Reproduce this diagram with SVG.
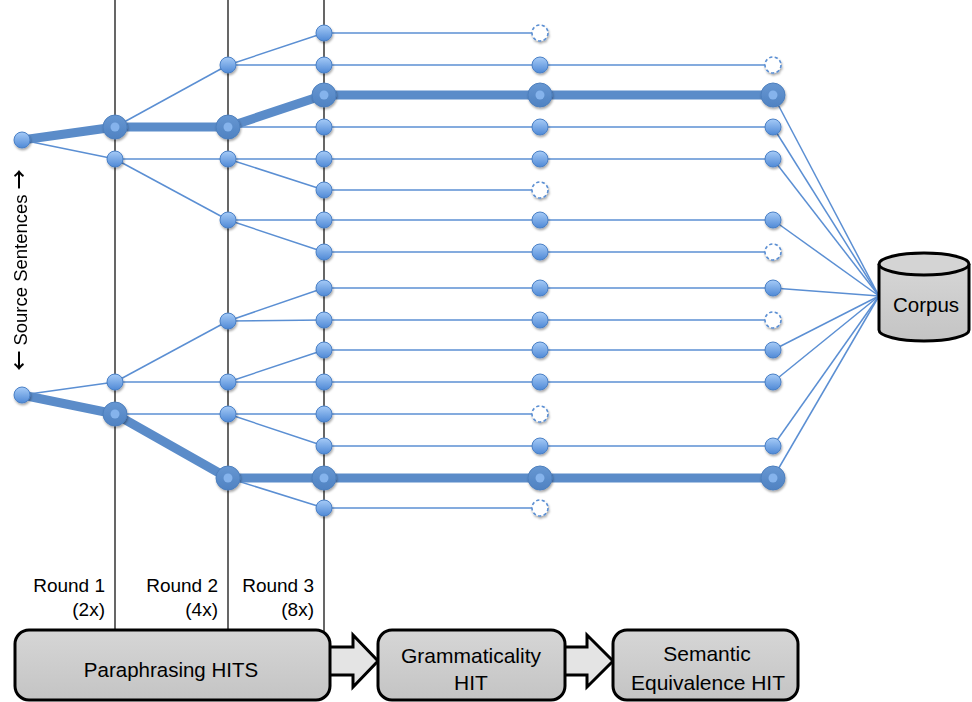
<svg xmlns="http://www.w3.org/2000/svg" xmlns:xlink="http://www.w3.org/1999/xlink" width="972" height="702" viewBox="0 0 972 702">
<style>
.e{stroke:#5b8fd3;stroke-width:1.5;fill:none}
.k{stroke:#5b8cc9;stroke-width:9;fill:none;stroke-linecap:round;stroke-linejoin:round}
.v{stroke:#000;stroke-width:1.2}
.box{fill:url(#gbox);stroke:#000;stroke-width:3}
.arr{fill:#e4e4e4;stroke:#000;stroke-width:3;stroke-linejoin:miter}
.t{font-family:"Liberation Sans",Arial,sans-serif;fill:#000}
.ar{font-family:"Noto Sans CJK SC","DejaVu Sans",sans-serif;font-size:20px;font-weight:bold}
</style>
<defs>
<linearGradient id="gn" x1="0" y1="0" x2="0" y2="1">
<stop offset="0" stop-color="#a6cbf7"/>
<stop offset="1" stop-color="#4f89d6"/>
</linearGradient>
<linearGradient id="gt" x1="0" y1="0" x2="0" y2="1">
<stop offset="0" stop-color="#6797d2"/>
<stop offset="1" stop-color="#4f82c2"/>
</linearGradient>
<linearGradient id="gbox" x1="0" y1="0" x2="0" y2="1">
<stop offset="0" stop-color="#d6d6d6"/>
<stop offset="1" stop-color="#c4c4c4"/>
</linearGradient>
<filter id="sh" x="-50%" y="-50%" width="200%" height="200%">
<feDropShadow dx="0.8" dy="1.8" stdDeviation="1.3" flood-color="#000" flood-opacity="0.35"/>
</filter>
<g id="nd"><circle r="8" fill="url(#gn)" stroke="#4a80c6" stroke-width="1"/></g>
<g id="nt"><circle r="12" fill="url(#gt)" stroke="#4d7fbd" stroke-width="1"/><circle r="4.5" fill="#85b3ec"/></g>
<g id="nx"><circle r="8" fill="#fff" stroke="#5b8fd3" stroke-width="1.6" stroke-dasharray="3.2 2.4"/></g>
</defs>
<rect width="972" height="702" fill="#fff"/>

<!-- round dividers -->
<g id="dividers">
<line class="v" x1="115" y1="0" x2="115" y2="631"/>
<line class="v" x1="228" y1="0" x2="228" y2="631"/>
<line class="v" x1="324" y1="0" x2="324" y2="631"/>
</g>

<g id="connectors">
<!-- thin tree edges, sentence 1 -->
<line class="e" x1="22" y1="140" x2="115" y2="159"/>
<line class="e" x1="115" y1="127" x2="228" y2="65"/>
<line class="e" x1="115" y1="159" x2="228" y2="159"/>
<line class="e" x1="115" y1="159" x2="228" y2="220"/>
<line class="e" x1="228" y1="65" x2="324" y2="33"/>
<line class="e" x1="228" y1="65" x2="324" y2="65"/>
<line class="e" x1="228" y1="127" x2="324" y2="127"/>
<line class="e" x1="228" y1="159" x2="324" y2="159"/>
<line class="e" x1="228" y1="159" x2="324" y2="190"/>
<line class="e" x1="228" y1="220" x2="324" y2="220"/>
<line class="e" x1="228" y1="220" x2="324" y2="252"/>
<!-- thin tree edges, sentence 2 -->
<line class="e" x1="22" y1="395" x2="115" y2="382"/>
<line class="e" x1="115" y1="382" x2="228" y2="321"/>
<line class="e" x1="115" y1="382" x2="228" y2="382"/>
<line class="e" x1="115" y1="414" x2="228" y2="414"/>
<line class="e" x1="228" y1="321" x2="324" y2="288"/>
<line class="e" x1="228" y1="321" x2="324" y2="320"/>
<line class="e" x1="228" y1="382" x2="324" y2="350"/>
<line class="e" x1="228" y1="382" x2="324" y2="382"/>
<line class="e" x1="228" y1="414" x2="324" y2="414"/>
<line class="e" x1="228" y1="414" x2="324" y2="446"/>
<line class="e" x1="228" y1="478" x2="324" y2="508"/>
<!-- round 3 to grammaticality -->
<line class="e" x1="324" y1="33" x2="540" y2="33"/>
<line class="e" x1="324" y1="65" x2="540" y2="65"/>
<line class="e" x1="324" y1="127" x2="540" y2="127"/>
<line class="e" x1="324" y1="159" x2="540" y2="159"/>
<line class="e" x1="324" y1="190" x2="540" y2="190"/>
<line class="e" x1="324" y1="220" x2="540" y2="220"/>
<line class="e" x1="324" y1="252" x2="540" y2="252"/>
<line class="e" x1="324" y1="288" x2="540" y2="288"/>
<line class="e" x1="324" y1="320" x2="540" y2="320"/>
<line class="e" x1="324" y1="350" x2="540" y2="350"/>
<line class="e" x1="324" y1="382" x2="540" y2="382"/>
<line class="e" x1="324" y1="414" x2="540" y2="414"/>
<line class="e" x1="324" y1="446" x2="540" y2="446"/>
<line class="e" x1="324" y1="508" x2="540" y2="508"/>
<!-- grammaticality to semantic -->
<line class="e" x1="540" y1="65" x2="773" y2="65"/>
<line class="e" x1="540" y1="127" x2="773" y2="127"/>
<line class="e" x1="540" y1="159" x2="773" y2="159"/>
<line class="e" x1="540" y1="220" x2="773" y2="220"/>
<line class="e" x1="540" y1="252" x2="773" y2="252"/>
<line class="e" x1="540" y1="288" x2="773" y2="288"/>
<line class="e" x1="540" y1="320" x2="773" y2="320"/>
<line class="e" x1="540" y1="350" x2="773" y2="350"/>
<line class="e" x1="540" y1="382" x2="773" y2="382"/>
<line class="e" x1="540" y1="446" x2="773" y2="446"/>
<!-- to corpus -->
<line class="e" x1="773" y1="95" x2="879" y2="296"/>
<line class="e" x1="773" y1="127" x2="879" y2="296"/>
<line class="e" x1="773" y1="159" x2="879" y2="296"/>
<line class="e" x1="773" y1="220" x2="879" y2="296"/>
<line class="e" x1="773" y1="288" x2="879" y2="296"/>
<line class="e" x1="773" y1="350" x2="879" y2="296"/>
<line class="e" x1="773" y1="382" x2="879" y2="296"/>
<line class="e" x1="773" y1="446" x2="879" y2="296"/>
<line class="e" x1="773" y1="478" x2="879" y2="296"/>
<!-- selected (thick) paths -->
<polyline class="k" points="22,140 115,127 228,127 324,95 540,95 773,95"/>
<polyline class="k" points="22,395 115,414 228,478 324,478 540,478 773,478"/>
</g>

<g filter="url(#sh)">
<!-- sources -->
<g id="src-1"><use href="#nd" x="22" y="140"/></g>
<g id="src-2"><use href="#nd" x="22" y="395"/></g>
<!-- round 1 -->
<g id="r1-127"><use href="#nt" x="115" y="127"/></g>
<g id="r1-159"><use href="#nd" x="115" y="159"/></g>
<g id="r1-382"><use href="#nd" x="115" y="382"/></g>
<g id="r1-414"><use href="#nt" x="115" y="414"/></g>
<!-- round 2 -->
<g id="r2-65"><use href="#nd" x="228" y="65"/></g>
<g id="r2-127"><use href="#nt" x="228" y="127"/></g>
<g id="r2-159"><use href="#nd" x="228" y="159"/></g>
<g id="r2-220"><use href="#nd" x="228" y="220"/></g>
<g id="r2-321"><use href="#nd" x="228" y="321"/></g>
<g id="r2-382"><use href="#nd" x="228" y="382"/></g>
<g id="r2-414"><use href="#nd" x="228" y="414"/></g>
<g id="r2-478"><use href="#nt" x="228" y="478"/></g>
<!-- round 3 -->
<g id="r3-33"><use href="#nd" x="324" y="33"/></g>
<g id="r3-65"><use href="#nd" x="324" y="65"/></g>
<g id="r3-95"><use href="#nt" x="324" y="95"/></g>
<g id="r3-127"><use href="#nd" x="324" y="127"/></g>
<g id="r3-159"><use href="#nd" x="324" y="159"/></g>
<g id="r3-190"><use href="#nd" x="324" y="190"/></g>
<g id="r3-220"><use href="#nd" x="324" y="220"/></g>
<g id="r3-252"><use href="#nd" x="324" y="252"/></g>
<g id="r3-288"><use href="#nd" x="324" y="288"/></g>
<g id="r3-320"><use href="#nd" x="324" y="320"/></g>
<g id="r3-350"><use href="#nd" x="324" y="350"/></g>
<g id="r3-382"><use href="#nd" x="324" y="382"/></g>
<g id="r3-414"><use href="#nd" x="324" y="414"/></g>
<g id="r3-446"><use href="#nd" x="324" y="446"/></g>
<g id="r3-478"><use href="#nt" x="324" y="478"/></g>
<g id="r3-508"><use href="#nd" x="324" y="508"/></g>
<!-- grammaticality column -->
<g id="g-33"><use href="#nx" x="540" y="33"/></g>
<g id="g-65"><use href="#nd" x="540" y="65"/></g>
<g id="g-95"><use href="#nt" x="540" y="95"/></g>
<g id="g-127"><use href="#nd" x="540" y="127"/></g>
<g id="g-159"><use href="#nd" x="540" y="159"/></g>
<g id="g-190"><use href="#nx" x="540" y="190"/></g>
<g id="g-220"><use href="#nd" x="540" y="220"/></g>
<g id="g-252"><use href="#nd" x="540" y="252"/></g>
<g id="g-288"><use href="#nd" x="540" y="288"/></g>
<g id="g-320"><use href="#nd" x="540" y="320"/></g>
<g id="g-350"><use href="#nd" x="540" y="350"/></g>
<g id="g-382"><use href="#nd" x="540" y="382"/></g>
<g id="g-414"><use href="#nx" x="540" y="414"/></g>
<g id="g-446"><use href="#nd" x="540" y="446"/></g>
<g id="g-478"><use href="#nt" x="540" y="478"/></g>
<g id="g-508"><use href="#nx" x="540" y="508"/></g>
<!-- semantic column -->
<g id="s-65"><use href="#nx" x="773" y="65"/></g>
<g id="s-95"><use href="#nt" x="773" y="95"/></g>
<g id="s-127"><use href="#nd" x="773" y="127"/></g>
<g id="s-159"><use href="#nd" x="773" y="159"/></g>
<g id="s-220"><use href="#nd" x="773" y="220"/></g>
<g id="s-252"><use href="#nx" x="773" y="252"/></g>
<g id="s-288"><use href="#nd" x="773" y="288"/></g>
<g id="s-320"><use href="#nx" x="773" y="320"/></g>
<g id="s-350"><use href="#nd" x="773" y="350"/></g>
<g id="s-382"><use href="#nd" x="773" y="382"/></g>
<g id="s-446"><use href="#nd" x="773" y="446"/></g>
<g id="s-478"><use href="#nt" x="773" y="478"/></g>
</g>

<!-- corpus -->
<g id="corpus">
<path d="M879,264 L879,330 A45,11 0 0 0 969,330 L969,264" fill="url(#gbox)" stroke="#000" stroke-width="3"/>
<ellipse cx="924" cy="264" rx="45" ry="11" fill="#d4d4d4" stroke="#000" stroke-width="3"/>
<text class="t" x="926" y="312" font-size="20.5" text-anchor="middle">Corpus</text>
</g>

<!-- side label -->
<g id="source-label">
<text class="t" transform="translate(27,270) rotate(-90)" font-size="18.5" text-anchor="middle"><tspan class="ar">←</tspan> Source Sentences <tspan class="ar">→</tspan></text>
</g>

<!-- round labels -->
<g id="round-labels">
<text class="t" x="105" y="592" font-size="19" text-anchor="end">Round 1</text>
<text class="t" x="105" y="616" font-size="19" text-anchor="end">(2x)</text>
<text class="t" x="218" y="592" font-size="19" text-anchor="end">Round 2</text>
<text class="t" x="218" y="616" font-size="19" text-anchor="end">(4x)</text>
<text class="t" x="314" y="592" font-size="19" text-anchor="end">Round 3</text>
<text class="t" x="314" y="616" font-size="19" text-anchor="end">(8x)</text>
</g>

<!-- block arrows -->
<g id="arrows">
<polygon class="arr" points="322,647 353,647 353,635 378,661 353,687 353,675 322,675"/>
<polygon class="arr" points="558,647 587,647 587,635 613,661 587,687 587,675 558,675"/>
</g>

<g id="paraphrasing">
<rect class="box" x="15" y="630" width="315" height="70" rx="14"/>
<text class="t" x="171" y="677" font-size="20.5" text-anchor="middle">Paraphrasing HITS</text>
</g>
<g id="grammaticality">
<rect class="box" x="378" y="630" width="187" height="70" rx="14"/>
<text class="t" x="471" y="663" font-size="21" text-anchor="middle">Grammaticality</text>
<text class="t" x="471" y="690" font-size="21" text-anchor="middle">HIT</text>
</g>
<g id="semantic">
<rect class="box" x="613" y="630" width="185" height="70" rx="14"/>
<text class="t" x="707" y="661" font-size="21" text-anchor="middle">Semantic</text>
<text class="t" x="708" y="690" font-size="21" text-anchor="middle">Equivalence HIT</text>
</g>
</svg>
